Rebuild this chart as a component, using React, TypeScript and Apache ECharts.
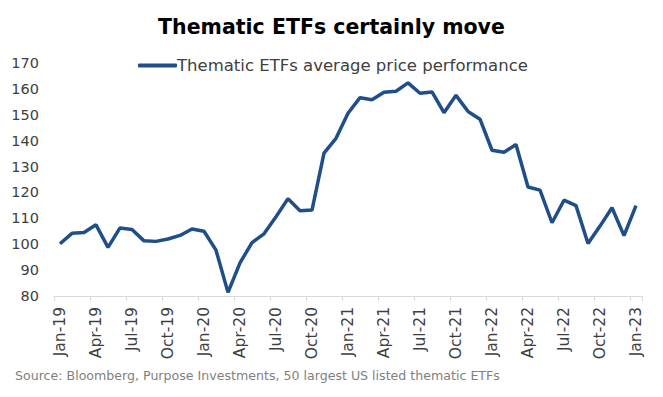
import React, { useEffect, useRef } from "react";
import * as echarts from "echarts";

const years = ["19", "20", "21", "22", "23"];
const monthNames = ["Jan", "Feb", "Mar", "Apr", "May", "Jun", "Jul", "Aug", "Sep", "Oct", "Nov", "Dec"];
const categories: string[] = [];
years.forEach((y) => {
  monthNames.forEach((m) => {
    if (y === "23" && m !== "Jan") return;
    categories.push(`${m}-${y}`);
  });
});

const performance = [
  100.2, 104.2, 104.5, 107.5, 98.8, 106.3, 105.7, 101.3, 101.1, 102.0, 103.4, 105.9,
  105.0, 97.7, 81.4, 92.8, 100.6, 104.0, 110.6, 117.6, 112.9, 113.2, 135.2, 140.9,
  150.6, 156.6, 155.8, 158.7, 159.1, 162.3, 158.3, 158.8, 150.8, 157.5, 151.3, 148.3,
  136.3, 135.5, 138.5, 122.1, 120.9, 108.3, 117.0, 114.9, 100.3, 107.0, 114.1, 103.3,
  114.9,
];

const seriesName = "Thematic ETFs average price performance";
const titleText = "Thematic ETFs certainly move";
const sourceText = "Source: Bloomberg, Purpose Investments, 50 largest US listed thematic ETFs";

const FONT = "'DejaVu Sans', 'Noto Sans', sans-serif";

export default function App() {
  const ref = useRef<HTMLDivElement>(null);
  useEffect(() => {
    if (!ref.current) return;
    const chart = echarts.init(ref.current, null, { renderer: "svg" });
    chart.setOption({
      animation: false,
      backgroundColor: "#ffffff",
      title: {
        text: titleText,
        left: "center",
        top: 11,
        textStyle: { fontFamily: FONT, fontSize: 20.5, fontWeight: "bold", color: "#000000" },
      },
      legend: {
        top: 57,
        left: 138,
        padding: 0,
        icon: "roundRect",
        itemWidth: 39,
        itemHeight: 4,
        itemGap: 5,
        textStyle: { fontFamily: FONT, fontSize: 16.5, color: "#404040", padding: [0, 0, 0, -5] },
        data: [seriesName],
      },
      grid: { left: 54, right: 21, top: 63, bottom: 101, containLabel: false },
      xAxis: {
        type: "category",
        data: categories,
        boundaryGap: true,
        axisLine: { lineStyle: { color: "#d9d9d9", width: 1 } },
        axisTick: { show: true, interval: 2, length: 5, lineStyle: { color: "#d9d9d9" } },
        axisLabel: {
          interval: 2,
          rotate: 90,
          margin: 11,
          fontFamily: FONT,
          fontSize: 15.5,
          color: "#404040",
        },
      },
      yAxis: {
        type: "value",
        min: 80,
        max: 170,
        interval: 10,
        axisLine: { show: false },
        axisTick: { show: false },
        splitLine: { show: false },
        axisLabel: { fontFamily: FONT, fontSize: 14.5, color: "#404040", margin: 15 },
      },
      series: [
        {
          name: seriesName,
          type: "line",
          data: performance,
          showSymbol: false,
          symbol: "none",
          lineStyle: { color: "#1f4e89", width: 3.5 },
          itemStyle: { color: "#1f4e89" },
        },
      ],
      graphic: [
        {
          type: "text",
          left: 15,
          top: 369,
          style: { text: sourceText, fontFamily: FONT, fontSize: 12.6, fill: "#7f7f7f" },
        },
      ],
    });
    return () => chart.dispose();
  }, []);
  return <div ref={ref} style={{ width: 663, height: 397, position: "absolute", left: 0, top: 0 }} />;
}
